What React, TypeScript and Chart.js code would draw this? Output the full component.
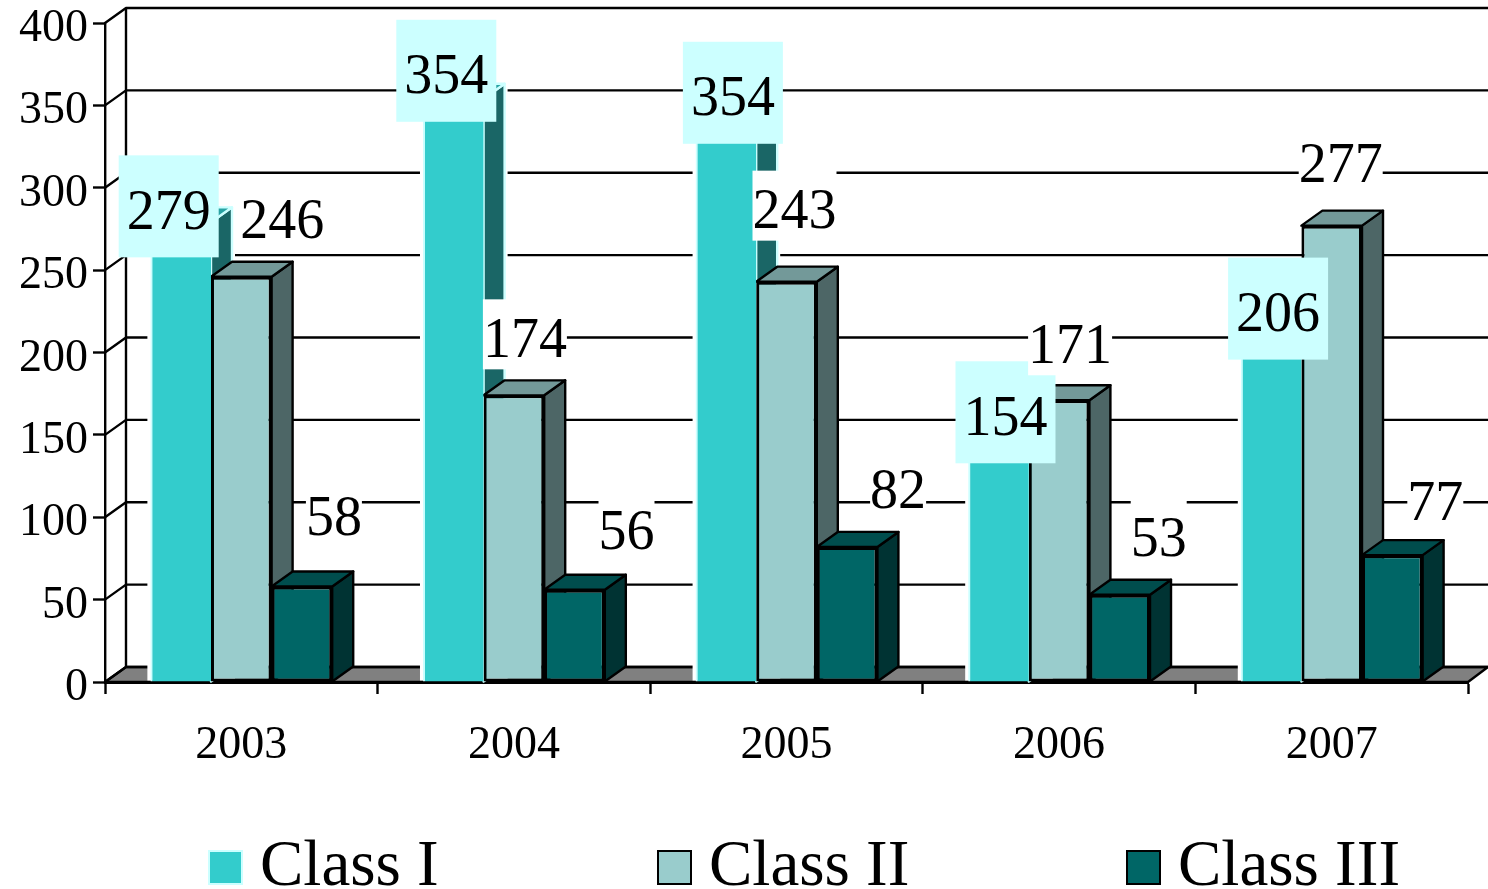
import React, { useEffect, useRef } from "react";
import { Chart, registerables } from "chart.js";

Chart.register(...registerables);

const years = ["2003", "2004", "2005", "2006", "2007"];
const classI = [279, 354, 354, 154, 206];
const classII = [246, 174, 243, 171, 277];
const classIII = [58, 56, 82, 53, 77];
const seriesNames = ["Class I", "Class II", "Class III"];

const SERIF = '"Liberation Serif", serif';
const DX = 21;
const DY = 15;
const LINE = 2.4;

const styles = [
  { front: "#33CCCC", side: "#1A6666", top: "#29A3A3", line: "#CCFFFF", box: "#CCFFFF", bw: 100, bh: 102 },
  { front: "#99CCCC", side: "#4D6666", top: "#739999", line: "#000000", box: "#FFFFFF", bw: 84, bh: 70 },
  { front: "#006666", side: "#003333", top: "#004D4D", line: "#000000", box: "#FFFFFF", bw: 56, bh: 70 },
];

// label displacement from the top centre of each bar, [series][year]
const labelShift = [
  [[-12, -12], [-7, -24], [7, -2], [7, -12], [7, -30]],
  [[41, -57], [11, -57], [8, -72], [11, -56], [9, -62]],
  [[32, -70], [52, -59], [51, -58], [39, -57], [43, -54]],
];
const legendSlots = [208, 657, 1126];

function poly(ctx: CanvasRenderingContext2D, pts: number[][], fill: string, line: string, w = LINE) {
  ctx.beginPath();
  pts.forEach((p, i) => (i ? ctx.lineTo(p[0], p[1]) : ctx.moveTo(p[0], p[1])));
  ctx.closePath();
  ctx.fillStyle = fill;
  ctx.fill();
  ctx.strokeStyle = line;
  ctx.lineWidth = w;
  ctx.lineJoin = "round";
  ctx.stroke();
}

const depthPlugin = {
  id: "depth",
  beforeDatasetsDraw(chart: any) {
    const ctx: CanvasRenderingContext2D = chart.ctx;
    const { left, right, bottom } = chart.chartArea;
    const y = chart.scales.y;
    ctx.save();
    // floor
    poly(ctx, [[left, bottom], [left + DX, bottom - DY], [right + DX - 1, bottom - DY], [right, bottom]], "#808080", "#000000");
    // walls
    ctx.strokeStyle = "#000000";
    ctx.lineWidth = LINE;
    y.ticks.forEach((t: any) => {
      const py = y.getPixelForValue(t.value);
      ctx.beginPath();
      ctx.moveTo(left, py);
      ctx.lineTo(left + DX, py - DY);
      ctx.lineTo(right + DX, py - DY);
      ctx.stroke();
    });
    ctx.beginPath();
    ctx.moveTo(left + DX, y.getPixelForValue(400) - DY);
    ctx.lineTo(left + DX, bottom - DY);
    ctx.stroke();
    // side and top faces, behind the fronts
    chart.data.datasets.forEach((_: any, s: number) => {
      const st = styles[s];
      chart.getDatasetMeta(s).data.forEach((bar: any) => {
        const l = bar.x - bar.width / 2;
        const r = bar.x + bar.width / 2;
        const t = bar.y;
        const b = bar.base;
        if (s === 0) {
          // halo that interrupts the wall lines
          ctx.fillStyle = "#FFFFFF";
          ctx.fillRect(l - 3, t - DY, bar.width + DX + 6, b - t + DY - 1);
        }
        poly(ctx, [[r, t], [r + DX, t - DY], [r + DX, b - DY], [r, b]], st.side, st.line);
        poly(ctx, [[l, t], [l + DX, t - DY], [r + DX, t - DY], [r, t]], st.top, st.line);
      });
    });
    ctx.restore();
  },
  afterDraw(chart: any) {
    const ctx: CanvasRenderingContext2D = chart.ctx;
    ctx.save();
    // value labels
    chart.data.datasets.forEach((ds: any, s: number) => {
      const st = styles[s];
      chart.getDatasetMeta(s).data.forEach((bar: any, i: number) => {
        const cx = bar.x + labelShift[s][i][0];
        const cy = bar.y + labelShift[s][i][1];
        const text = String(ds.data[i]);
        ctx.font = `56px ${SERIF}`;
        ctx.fillStyle = st.box;
        ctx.fillRect(cx - st.bw / 2, cy - 4 - st.bh / 2, st.bw, st.bh);
        ctx.fillStyle = "#000000";
        ctx.textAlign = "center";
        ctx.textBaseline = "middle";
        ctx.fillText(text, cx, cy + 4);
      });
    });
    // legend
    seriesNames.forEach((name, s) => {
      const st = styles[s];
      const x = legendSlots[s];
      ctx.fillStyle = st.front;
      ctx.strokeStyle = st.line;
      ctx.lineWidth = 2;
      ctx.fillRect(x + 1, 851, 33, 33);
      ctx.strokeRect(x + 1, 851, 33, 33);
      ctx.fillStyle = "#000000";
      ctx.font = `65px ${SERIF}`;
      ctx.textAlign = "left";
      ctx.textBaseline = "alphabetic";
      ctx.fillText(name, x + 52, 885);
    });
    ctx.restore();
  },
};

export default function App() {
  const ref = useRef<HTMLCanvasElement>(null);
  useEffect(() => {
    const make = (i: number, data: number[]) => ({
      label: seriesNames[i],
      data,
      backgroundColor: styles[i].front,
      borderColor: styles[i].line,
      borderWidth: i === 0 ? { left: 2, top: 2, right: 0, bottom: 0 } : 3,
      borderSkipped: false,
    });
    const tickFont = { family: SERIF, size: 46, lineHeight: 1 };
    const chart = new Chart(ref.current as HTMLCanvasElement, {
      type: "bar",
      data: {
        labels: years,
        datasets: [make(0, classI), make(1, classII), make(2, classIII)],
      },
      options: {
        responsive: false,
        animation: false,
        layout: { padding: { top: 23, right: 20, left: 0, bottom: 0 } },
        plugins: { legend: { display: false }, tooltip: { enabled: false } },
        datasets: { bar: { categoryPercentage: 0.667, barPercentage: 1 } },
        scales: {
          x: {
            z: 1,
            afterFit: (s: any) => { s.height = 207; s.paddingLeft = 0; s.paddingRight = 0; },
            grid: { drawOnChartArea: false, tickLength: 12, tickWidth: LINE, tickColor: "#000000" },
            border: { color: "#000000", width: 3 },
            ticks: { color: "#000000", font: tickFont, padding: 29, maxRotation: 0 },
          },
          y: {
            min: 0,
            max: 400,
            afterFit: (s: any) => { s.width = 105; s.paddingTop = 0; s.paddingBottom = 0; },
            grid: { drawOnChartArea: false, tickLength: 12, tickWidth: LINE, tickColor: "#000000" },
            border: { color: "#000000", width: LINE },
            ticks: { color: "#000000", font: tickFont, stepSize: 50, padding: 5, labelOffset: 6 },
          },
        },
      } as any,
      plugins: [depthPlugin],
    });
    return () => chart.destroy();
  }, []);
  return (
    <div style={{ position: "absolute", left: 0, top: 0, width: 1488, height: 889, background: "#FFFFFF" }}>
      <canvas ref={ref} width={1488} height={889} style={{ display: "block" }} />
    </div>
  );
}
